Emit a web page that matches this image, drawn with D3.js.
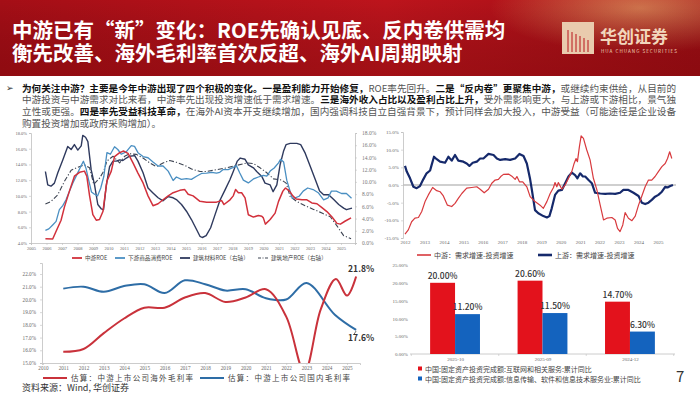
<!DOCTYPE html>
<html><head><meta charset="utf-8">
<script src="https://cdn.jsdelivr.net/npm/d3@7"></script>
<style>body{margin:0;background:#fff;}svg{display:block;font-family:"Noto Sans CJK SC","Noto Sans",sans-serif;}</style>
</head><body><svg id="c" width="700" height="394"></svg>
<script>
// ---------- DATA ----------
const titleLines = ["中游已有“新”变化：ROE先确认见底、反内卷供需均", "衡先改善、海外毛利率首次反超、海外AI周期映射"];
const bodyLines = [
  [["为何关注中游？主要是今年中游出现了四个积极的变化。一是盈利能力开始修复，", 1], ["ROE率先回升。", 0], ["二是“反内卷”更聚焦中游，", 1], ["或继续约束供给，从目前的", 0]],
  [["中游投资与中游需求对比来看，中游率先出现投资增速低于需求增速。", 0], ["三是海外收入占比以及盈利占比上升，", 1], ["受外需影响更大，与上游或下游相比，景气独", 0]],
  [["立性或更强。", 0], ["四是率先受益科技革命，", 1], ["在海外AI资本开支继续增加，国内强调科技自立自强背景下，预计同样会加大投入，中游受益（可能途径是企业设备", 0]],
  [["购置投资增加或政府采购增加）。", 0]]
];

// Chart 1 (ROE)
const c1Years = d3.range(2005, 2026);
const c1LeftTicks = [4, 6, 8, 10, 12, 14, 16, 18];
const c1RightTicks = [0, 2, 4, 6, 8, 10, 12, 14, 16, 18];
const c1Legend = ["中游ROE", "下游商品消费ROE", "建筑材料ROE（右轴）", "建筑地产ROE（右轴）"];
const midROE = [[2005.93,4.55],[2006.4,4.5],[2006.62,5.5],[2006.94,6.9],[2007.16,8.6],[2007.48,10.6],[2007.8,12.5],[2008.13,13.0],[2008.45,13.15],[2008.6,12.5],[2008.78,10.0],[2008.99,7.6],[2009.21,6.9],[2009.42,7.0],[2009.64,8.0],[2009.9,11.9],[2010.18,13.15],[2010.39,15.0],[2010.72,15.5],[2010.98,15.7],[2011.26,15.4],[2011.58,14.2],[2011.9,12.9],[2012.23,11.65],[2012.55,10.0],[2012.87,8.75],[2013.2,9.0],[2013.52,9.5],[2013.85,10.0],[2014.17,10.4],[2014.6,10.7],[2014.92,10.8],[2015.14,10.2],[2015.46,10.0],[2015.9,9.3],[2016.33,9.2],[2016.97,9.2],[2017.3,9.4],[2017.45,8.9],[2017.84,9.5],[2018.05,10.0],[2018.2,10.8],[2018.38,10.4],[2018.59,10.4],[2018.81,9.75],[2019.02,7.6],[2019.35,7.3],[2019.67,7.5],[2019.89,7.4],[2019.99,7.2],[2020.12,6.4],[2020.43,7.0],[2020.75,7.8],[2020.97,9.3],[2021.25,10.6],[2021.42,11.0],[2021.68,10.6],[2021.89,10.0],[2022.11,9.6],[2022.48,9.5],[2022.8,9.5],[2023.12,9.1],[2023.45,9.0],[2023.77,8.5],[2024.09,8.0],[2024.42,7.3],[2024.74,6.5],[2024.96,6.4],[2025.28,6.8],[2025.65,7.2]];
const downROE = [[2005.93,5.6],[2006.15,5.8],[2006.4,6.3],[2006.62,6.75],[2006.83,8.25],[2007.05,8.75],[2007.26,9.5],[2007.48,10.6],[2007.7,11.65],[2007.96,12.7],[2008.2,13.7],[2008.38,14.4],[2008.55,13.5],[2008.72,12.0],[2008.9,10.5],[2009.1,10.2],[2009.3,10.0],[2009.5,11.0],[2009.7,12.5],[2009.9,15.5],[2010.12,15.3],[2010.39,16.25],[2010.6,15.9],[2010.82,15.3],[2011.14,15.6],[2011.47,16.4],[2011.68,16.3],[2011.9,15.5],[2012.23,15.0],[2012.55,14.85],[2012.87,14.3],[2013.2,13.8],[2013.52,13.8],[2013.85,13.15],[2014.17,11.95],[2014.38,12.4],[2014.7,12.1],[2015.03,12.2],[2015.35,12.1],[2015.68,12.5],[2016.0,12.85],[2016.33,12.9],[2016.65,13.0],[2016.97,12.9],[2017.18,13.0],[2017.4,13.35],[2017.72,13.35],[2017.98,13.55],[2018.25,13.85],[2018.47,12.9],[2018.7,12.0],[2019.02,11.65],[2019.35,12.15],[2019.67,12.4],[2019.99,12.6],[2020.21,12.5],[2020.43,13.15],[2020.69,13.55],[2020.97,14.2],[2021.1,14.65],[2021.3,14.3],[2021.5,12.0],[2021.85,9.7],[2022.04,9.75],[2022.3,9.95],[2022.56,10.6],[2022.85,11.0],[2023.2,10.8],[2023.53,10.4],[2023.88,9.5],[2024.17,9.75],[2024.38,10.6],[2024.7,10.6],[2025.03,10.3],[2025.35,10.3],[2025.68,9.7]];
const matROE = [[2005.93,11.7],[2006.08,9.5],[2006.29,9.3],[2006.51,9.8],[2006.73,11.5],[2007.05,13.6],[2007.37,15.8],[2007.59,15.3],[2007.8,16.1],[2008.02,15.2],[2008.24,15.9],[2008.34,17.6],[2008.52,17.3],[2008.67,16.6],[2008.88,12.0],[2009.1,9.5],[2009.31,6.3],[2009.53,5.6],[2009.68,5.45],[2009.85,9.3],[2010.07,12.5],[2010.29,13.4],[2010.5,13.4],[2010.72,13.6],[2010.93,13.5],[2011.15,13.9],[2011.36,14.2],[2011.69,14.3],[2011.9,13.4],[2012.23,11.5],[2012.55,9.0],[2012.87,8.2],[2013.2,7.4],[2013.52,6.9],[2013.85,7.6],[2014.17,7.4],[2014.38,7.1],[2014.71,6.3],[2015.03,5.2],[2015.36,3.8],[2015.68,2.2],[2015.9,1.1],[2016.05,0.9],[2016.3,1.2],[2016.59,2.5],[2016.87,4.6],[2017.19,7.0],[2017.52,8.7],[2017.84,10.4],[2018.05,11.7],[2018.31,13.4],[2018.5,13.9],[2018.81,13.7],[2019.02,12.8],[2019.35,12.3],[2019.56,11.7],[2019.89,10.9],[2020.1,9.8],[2020.43,9.5],[2020.62,8.4],[2020.86,9.5],[2021.07,12.8],[2021.29,15.0],[2021.46,16.1],[2021.72,16.3],[2022.15,16.3],[2022.4,16.1],[2022.69,14.7],[2023.02,12.5],[2023.34,10.4],[2023.62,8.5],[2023.88,7.9],[2024.2,7.9],[2024.53,7.1],[2024.85,6.3],[2025.17,5.7],[2025.35,5.45],[2025.71,5.7]];
const reROE = [[2005.93,6.4],[2006.29,6.8],[2006.73,7.9],[2007.16,10.1],[2007.59,11.9],[2008.02,12.4],[2008.45,12.8],[2008.78,12.3],[2009.05,9.6],[2009.42,10.6],[2009.68,11.7],[2009.9,13.4],[2010.29,14.2],[2010.72,13.1],[2011.04,14.2],[2011.36,14.6],[2011.8,14.5],[2012.23,13.9],[2012.66,13.1],[2013.09,12.5],[2013.52,13.1],[2013.95,13.5],[2014.38,13.2],[2014.92,12.7],[2015.36,12.1],[2015.9,11.7],[2016.33,11.7],[2016.97,12.0],[2017.62,12.3],[2018.27,12.7],[2018.92,13.1],[2019.35,13.0],[2019.78,12.3],[2020.21,11.5],[2020.64,10.5],[2021.18,10.3],[2021.46,9.8],[2021.72,7.6],[2022.15,6.8],[2022.69,6.1],[2023.23,5.5],[2023.77,4.9],[2024.31,4.3],[2024.74,2.8],[2025.17,1.2],[2025.65,0.7]];

// Chart 2 (demand growth - investment growth)
const c2Years = d3.range(2012, 2026);
const c2Ticks = [-15, -10, -5, 0, 5, 10, 15];
const c2Legend = ["中游：需求增速-投资增速", "上游：需求增速-投资增速"];
const midGap = [[2012.0,-13.9],[2012.17,-12.7],[2012.34,-10.4],[2012.51,-9.4],[2012.69,-9.2],[2012.86,-7.5],[2013.03,-4.7],[2013.2,-2.8],[2013.42,-0.7],[2013.63,-1.6],[2013.8,-1.9],[2013.97,-3.1],[2014.18,-5.7],[2014.4,-6.1],[2014.57,-5.2],[2014.74,-3.8],[2014.92,-2.4],[2015.17,-0.9],[2015.43,-0.7],[2015.69,-0.5],[2015.86,-1.2],[2016.07,-2.2],[2016.29,-1.2],[2016.46,0.5],[2016.63,1.4],[2016.8,1.6],[2016.92,2.4],[2017.06,3.0],[2017.32,3.1],[2017.49,2.5],[2017.66,1.6],[2017.75,2.4],[2017.88,0.9],[2018.05,0.9],[2018.26,-0.5],[2018.43,-3.3],[2018.68,-4.7],[2018.94,-5.7],[2019.11,-6.6],[2019.29,-4.7],[2019.46,-2.4],[2019.63,-0.7],[2019.71,0.7],[2019.8,-0.5],[2019.88,0.7],[2020.06,-1.2],[2020.23,0.0],[2020.4,1.9],[2020.57,3.8],[2020.69,6.1],[2020.79,7.5],[2020.86,6.6],[2020.96,10.8],[2021.05,13.9],[2021.17,13.2],[2021.34,9.9],[2021.51,7.1],[2021.68,1.9],[2021.86,-1.4],[2022.03,-5.7],[2022.2,-9.9],[2022.37,-9.4],[2022.63,-9.2],[2022.8,-9.9],[2022.92,-12.3],[2023.05,-13.2],[2023.19,-11.3],[2023.31,-7.8],[2023.48,-9.4],[2023.66,-10.1],[2023.83,-8.8],[2024.0,-5.7],[2024.17,-3.1],[2024.34,-0.5],[2024.51,1.4],[2024.68,1.4],[2024.85,2.4],[2025.02,3.8],[2025.2,5.2],[2025.37,6.1],[2025.49,7.5],[2025.6,9.4],[2025.71,7.5]];
const upGap = [[2012.0,5.4],[2012.09,3.8],[2012.26,1.9],[2012.43,-0.5],[2012.6,-0.9],[2012.77,-0.3],[2012.94,1.6],[2013.11,3.3],[2013.29,4.1],[2013.37,5.7],[2013.49,8.0],[2013.63,7.3],[2013.8,6.6],[2014.06,6.3],[2014.23,8.0],[2014.4,6.9],[2014.57,8.5],[2014.74,6.9],[2015.0,6.6],[2015.17,6.1],[2015.31,5.4],[2015.48,6.3],[2015.69,6.6],[2015.86,7.5],[2016.03,7.5],[2016.29,8.8],[2016.55,8.5],[2016.72,7.5],[2016.89,7.1],[2017.15,7.3],[2017.4,7.1],[2017.66,7.5],[2017.88,8.8],[2018.09,8.2],[2018.26,6.1],[2018.43,1.6],[2018.52,-1.4],[2018.68,-7.1],[2018.85,-8.0],[2019.11,-8.8],[2019.29,-9.2],[2019.42,-8.8],[2019.54,-6.6],[2019.71,-2.8],[2019.88,-1.6],[2020.06,-1.4],[2020.23,0.5],[2020.4,2.4],[2020.57,3.5],[2020.74,2.8],[2020.86,1.9],[2021.0,3.3],[2021.14,2.4],[2021.26,2.4],[2021.43,1.4],[2021.6,0.5],[2021.77,-2.2],[2022.03,-2.4],[2022.29,-2.5],[2022.54,-2.4],[2022.8,-2.5],[2023.05,-2.2],[2023.22,-1.4],[2023.48,-1.4],[2023.74,-2.2],[2024.0,-3.1],[2024.17,-5.0],[2024.34,-5.4],[2024.51,-5.0],[2024.68,-4.2],[2024.85,-3.3],[2025.02,-2.8],[2025.2,-1.9],[2025.37,-0.5],[2025.49,-0.7],[2025.63,-0.3],[2025.77,0.0]];

// Chart 3 (gross margin)
const c3Years = d3.range(2010, 2026);
const c3Ticks = [15, 16, 17, 18, 19, 20, 21, 22];
const c3Legend = ["估算：中游上市公司海外毛利率", "估算：中游上市公司国内毛利率"];
const overseasGM = [[2011,15.88],[2012,16.1],[2013,17.35],[2014,18.5],[2015,19.35],[2016,19.35],[2017,20.15],[2018,20.5],[2019,19.8],[2020,20.15],[2021,20.8],[2022,18.65],[2022.9,14.3],[2023.7,19.2],[2024.45,21.6],[2025.0,20.3],[2025.45,21.8]];
const domesticGM = [[2011,20.85],[2012,21.0],[2013,20.6],[2014,21.05],[2015,21.2],[2016,20.5],[2017,21.5],[2018,21.2],[2019,20.7],[2020,20.8],[2021,20.1],[2022,20.0],[2023,21.3],[2024.4,18.8],[2025.45,17.6]];

// Chart 4 (bars)
const barCats = ["2025-10", "2025-09", "2024-12"];
const internetInv = [20.0, 20.6, 14.7];
const infoInv = [11.2, 11.5, 6.3];
const c4Ticks = [0, 5, 10, 15, 20, 25];
const c4Legend = ["中国:固定资产投资完成额:互联网和相关服务:累计同比", "中国:固定资产投资完成额:信息传输、软件和信息技术服务业:累计同比"];

const sourceText = "资料来源：Wind, 华创证券";
const pageNum = "7";

// ---------- DRAW ----------
const svg = d3.select("#c");
const defs = svg.append("defs");
const lg = defs.append("linearGradient").attr("id", "hdr").attr("x1", 0).attr("x2", 1).attr("y1", 0).attr("y2", 0);
lg.append("stop").attr("offset", "0%").attr("stop-color", "#A50E16");
lg.append("stop").attr("offset", "55%").attr("stop-color", "#BD141C");
lg.append("stop").attr("offset", "100%").attr("stop-color", "#A00E15");
const rg = defs.append("radialGradient").attr("id", "glow").attr("cx", 0.5).attr("cy", 0.5).attr("r", 0.5);
rg.append("stop").attr("offset", "0%").attr("stop-color", "#F5C77A").attr("stop-opacity", 0.55);
rg.append("stop").attr("offset", "100%").attr("stop-color", "#F5C77A").attr("stop-opacity", 0);
const vg = defs.append("linearGradient").attr("id", "shade").attr("x1", 0).attr("x2", 0).attr("y1", 0).attr("y2", 1);
vg.append("stop").attr("offset", "0%").attr("stop-color", "#000").attr("stop-opacity", 0);
vg.append("stop").attr("offset", "100%").attr("stop-color", "#500000").attr("stop-opacity", 0.25);

svg.append("rect").attr("width", 700).attr("height", 394).attr("fill", "#fff");
svg.append("rect").attr("width", 700).attr("height", 76).attr("fill", "url(#hdr)");
svg.append("ellipse").attr("cx", 640).attr("cy", 8).attr("rx", 150).attr("ry", 45).attr("fill", "url(#glow)");
svg.append("rect").attr("width", 700).attr("height", 76).attr("fill", "url(#shade)");

const hdrG = svg.append("g");
titleLines.forEach((t, i) => {
  hdrG.append("text").attr("x", 12).attr("y", 38 + i * 22.5).attr("fill", "#fff")
    .style("font-size", "20.5px").style("font-weight", 700).text(t);
});
// logo
const logo = svg.append("g").attr("transform", "translate(562,22)");
logo.append("rect").attr("width", 32).attr("height", 32).attr("fill", "#E9CBAE");
d3.range(0, 6).forEach(k => {
  logo.append("line").attr("x1", 6 + k * 4).attr("y1", 30).attr("x2", 6 + k * 4).attr("y2", 8 + k * 2)
    .attr("stroke", "#B8141C").attr("stroke-width", 1);
});
svg.append("text").attr("x", 600).attr("y", 43).attr("fill", "#F2D6BC").style("font-size", "17px").style("font-weight", 700).text("华创证券");
svg.append("text").attr("x", 601).attr("y", 53).attr("fill", "#F2D6BC").style("font-size", "4.6px").attr("textLength", 76).text("HUA CHUANG SECURITIES");

// body text (justified with letter-spacing)
svg.append("text").attr("x", 6).attr("y", 91).attr("fill", "#333").style("font-size", "9px").text("➢");
bodyLines.forEach((segs, i) => {
  const t = svg.append("text").attr("x", 22).attr("y", 91.5 + i * 11.8).style("font-size", "9.6px");
  segs.forEach(s => t.append("tspan").attr("fill", s[1] ? "#111" : "#555").style("font-weight", s[1] ? 700 : 400).text(s[0]));
  if (i < 3) {
    const w = t.node().getComputedTextLength();
    const n = segs.map(s => s[0]).join("").length;
    t.style("letter-spacing", ((654 - w) / (n - 1)) + "px");
  }
});

function styleAxis(g, fs, col) {
  g.select(".domain").attr("stroke", "#BFBFBF").attr("stroke-width", 0.8);
  g.selectAll(".tick line").attr("stroke", "#BFBFBF").attr("stroke-width", 0.6);
  g.selectAll(".tick text").attr("fill", col || "#666").style("font-size", fs + "px").style("font-family", "'Liberation Serif',serif");
}

// ---- Chart 1 ----
const x1 = d3.scaleLinear().domain([2005, 2025]).range([31, 341]);
const yL1 = d3.scaleLinear().domain([4, 18]).range([243, 133]);
const yR1 = d3.scaleLinear().domain([0, 18]).range([243, 133]);
const c1 = svg.append("g");
const x1Axis = d3.scaleLinear().domain([2005, x1.invert(355)]).range([31, 355]);
c1.append("g").attr("transform", "translate(0,243)")
  .call(d3.axisBottom(x1Axis).tickValues(c1Years).tickFormat(d3.format("d")).tickSize(2).tickPadding(1.5))
  .call(g => styleAxis(g, 4.5));
c1.append("g").attr("transform", "translate(31,0)")
  .call(d3.axisLeft(yL1).tickValues(c1LeftTicks).tickFormat(d => d.toFixed(1) + "%").tickSize(2).tickPadding(2))
  .call(g => styleAxis(g, 4.5));
c1.append("g").attr("transform", "translate(355,0)")
  .call(d3.axisRight(yR1).tickValues(c1RightTicks).tickFormat(d => d.toFixed(1) + "%").tickSize(2).tickPadding(5))
  .call(g => styleAxis(g, 5.5, "#777"));
const c1Series = [
  {data: reROE, y: yR1, color: "#3D4452", w: 1.1, dash: "5,2,1.2,2"},
  {data: matROE, y: yR1, color: "#2F3A5E", w: 1.4},
  {data: downROE, y: yL1, color: "#4A8FC2", w: 1.3},
  {data: midROE, y: yL1, color: "#D2313C", w: 1.5}
];
c1Series.forEach(s => {
  c1.append("path").datum(s.data).attr("fill", "none").attr("stroke", s.color).attr("stroke-width", s.w)
    .attr("stroke-dasharray", s.dash || null).attr("stroke-linejoin", "round")
    .attr("d", d3.line().x(d => x1(d[0])).y(d => s.y(d[1])));
});
const c1LegX = [72, 115, 180, 258];
const c1LegCol = ["#D2313C", "#4A8FC2", "#2F3A5E", "#3D4452"];
c1Legend.forEach((t, i) => {
  c1.append("line").attr("x1", c1LegX[i]).attr("x2", c1LegX[i] + 10).attr("y1", 258).attr("y2", 258)
    .attr("stroke", c1LegCol[i]).attr("stroke-width", i === 3 ? 1 : 1.8).attr("stroke-dasharray", i === 3 ? "3,1.5,1,1.5" : null);
  c1.append("text").attr("x", c1LegX[i] + 13).attr("y", 260).attr("fill", "#444").style("font-size", "5.6px").text(t);
});

// ---- Chart 2 ----
const x2 = d3.scaleLinear().domain([2012, 2025]).range([405, 658]);
const y2 = d3.scaleLinear().domain([-15, 15]).range([238, 132]);
const c2 = svg.append("g");
c2.append("line").attr("x1", 403).attr("x2", 676).attr("y1", y2(0)).attr("y2", y2(0)).attr("stroke", "#CFCFCF").attr("stroke-width", 2);
c2.append("g").attr("transform", "translate(403,0)")
  .call(d3.axisLeft(y2).tickValues(c2Ticks).tickFormat(d => d.toFixed(1) + "%").tickSize(2).tickPadding(2))
  .call(g => styleAxis(g, 5));
c2.append("g").attr("transform", "translate(0,238)")
  .call(d3.axisBottom(x2).tickValues(c2Years).tickFormat(d3.format("d")).tickSize(0).tickPadding(2.5))
  .call(g => { styleAxis(g, 5); g.select(".domain").remove(); });
c2.append("path").datum(upGap).attr("fill", "none").attr("stroke", "#15296B").attr("stroke-width", 2.2).attr("stroke-linejoin", "round")
  .attr("d", d3.line().x(d => x2(d[0])).y(d => y2(d[1])));
c2.append("path").datum(midGap).attr("fill", "none").attr("stroke", "#D83A3E").attr("stroke-width", 1.2).attr("stroke-linejoin", "round")
  .attr("d", d3.line().x(d => x2(d[0])).y(d => y2(d[1])));
const c2LegX = [417, 538];
const c2LegCol = ["#D83A3E", "#15296B"];
c2Legend.forEach((t, i) => {
  c2.append("line").attr("x1", c2LegX[i]).attr("x2", c2LegX[i] + 14).attr("y1", 255).attr("y2", 255)
    .attr("stroke", c2LegCol[i]).attr("stroke-width", i ? 2.6 : 1.6);
  c2.append("text").attr("x", c2LegX[i] + 17).attr("y", 257.5).attr("fill", "#444").style("font-size", "7px").text(t);
});

// ---- Chart 3 ----
const x3 = d3.scaleLinear().domain([2010, 2025]).range([43, 347]);
const y3 = d3.scaleLinear().domain([15, 22]).range([363, 274]);
const c3 = svg.append("g");
defs.append("clipPath").attr("id", "c3clip").append("rect").attr("x", 42).attr("y", 255).attr("width", 330).attr("height", 108);
const y3Axis = d3.scaleLinear().domain([15, y3.invert(263)]).range([363, 263]);
c3.append("g").attr("transform", "translate(42,0)")
  .call(d3.axisLeft(y3Axis).tickValues(c3Ticks).tickFormat(d => d.toFixed(1) + "%").tickSize(2).tickPadding(4))
  .call(g => styleAxis(g, 5.2));
const x3Axis = d3.scaleLinear().domain([x3.invert(42), x3.invert(360)]).range([42, 360]);
c3.append("g").attr("transform", "translate(0,363)")
  .call(d3.axisBottom(x3Axis).tickValues(c3Years).tickFormat(d3.format("d")).tickSize(2).tickPadding(1.5))
  .call(g => styleAxis(g, 5.2));
const curve3 = d3.curveCatmullRom.alpha(0.5);
c3.append("path").datum(domesticGM).attr("clip-path", "url(#c3clip)").attr("fill", "none").attr("stroke", "#2E6DA6").attr("stroke-width", 2)
  .attr("d", d3.line().curve(curve3).x(d => x3(d[0])).y(d => y3(d[1])));
c3.append("path").datum(overseasGM).attr("clip-path", "url(#c3clip)").attr("fill", "none").attr("stroke", "#C9323B").attr("stroke-width", 2)
  .attr("d", d3.line().curve(curve3).x(d => x3(d[0])).y(d => y3(d[1])));
const lastO = overseasGM[overseasGM.length - 1], lastD = domesticGM[domesticGM.length - 1];
c3.append("text").attr("x", x3(lastO[0]) - 8).attr("y", y3(lastO[1]) - 5).attr("fill", "#333").style("font-size", "8.5px").style("font-weight", 700).text(lastO[1].toFixed(1) + "%");
c3.append("line").attr("x1", x3(lastD[0])).attr("y1", y3(lastD[1]) + 1).attr("x2", x3(lastD[0]) - 2.5).attr("y2", y3(lastD[1]) + 5).attr("stroke", "#333").attr("stroke-width", 0.7);
c3.append("text").attr("x", x3(lastD[0]) - 8).attr("y", y3(lastD[1]) + 11).attr("fill", "#333").style("font-size", "8.5px").style("font-weight", 700).text(lastD[1].toFixed(1) + "%");
const c3LegX = [43, 200];
const c3LegCol = ["#C9323B", "#2E6DA6"];
c3Legend.forEach((t, i) => {
  c3.append("line").attr("x1", c3LegX[i]).attr("x2", c3LegX[i] + 24).attr("y1", 378).attr("y2", 378)
    .attr("stroke", c3LegCol[i]).attr("stroke-width", 2);
  c3.append("text").attr("x", c3LegX[i] + 28).attr("y", 380.5).attr("fill", "#444").style("font-size", "7.5px")
    .attr("textLength", 122).attr("lengthAdjust", "spacing").text(t);
});

// ---- Chart 4 ----
const xb = d3.scaleBand().domain(barCats).range([410, 675]).paddingInner(0.43).paddingOuter(0.23);
const xs = d3.scaleBand().domain([0, 1]).range([0, xb.bandwidth()]);
const yb = d3.scaleLinear().domain([0, 25]).range([354, 265]);
const c4 = svg.append("g");
c4.append("g").attr("transform", "translate(409,0)")
  .call(d3.axisLeft(yb).tickValues(c4Ticks).tickFormat(d => d.toFixed(2) + "%").tickSize(0).tickPadding(1))
  .call(g => { styleAxis(g, 5); g.select(".domain").remove(); });
const xbAxis = d3.scalePoint().domain(barCats).range([xb(barCats[0]) + xb.bandwidth() / 2, xb(barCats[2]) + xb.bandwidth() / 2]);
c4.append("g").attr("transform", "translate(0,354)")
  .call(d3.axisBottom(xbAxis).tickSize(0).tickPadding(3))
  .call(g => { styleAxis(g, 5); g.select(".domain").remove(); });
c4.append("line").attr("x1", 410).attr("x2", 675).attr("y1", 354).attr("y2", 354).attr("stroke", "#BFBFBF").attr("stroke-width", 0.8);
const step = xb.step();
[0, 1, 2, 3].forEach(k => {
  const xx = xb(barCats[0]) - xb.paddingInner() * step / 2 + k * step;
  c4.append("line").attr("x1", xx).attr("x2", xx).attr("y1", 354).attr("y2", 356).attr("stroke", "#BFBFBF").attr("stroke-width", 0.6);
});
const barSeries = [{vals: internetInv, color: "#E3121C"}, {vals: infoInv, color: "#1463BE"}];
barSeries.forEach((s, si) => {
  c4.selectAll(null).data(barCats).enter().append("rect")
    .attr("x", d => xb(d) + xs(si)).attr("width", xs.bandwidth())
    .attr("y", (d, i) => yb(s.vals[i])).attr("height", (d, i) => yb(0) - yb(s.vals[i]))
    .attr("fill", s.color);
  c4.selectAll(null).data(barCats).enter().append("text")
    .attr("x", d => xb(d) + xs(si) + xs.bandwidth() / 2).attr("y", (d, i) => yb(s.vals[i]) - 4)
    .attr("text-anchor", "middle").attr("fill", "#333").style("font-size", "8.5px").style("font-weight", 500)
    .text((d, i) => s.vals[i].toFixed(2) + "%");
});
const c4LegCol = ["#E3121C", "#1463BE"];
c4Legend.forEach((t, i) => {
  c4.append("rect").attr("x", 418).attr("y", 366.5 + i * 10).attr("width", 4).attr("height", 4).attr("fill", c4LegCol[i]);
  c4.append("text").attr("x", 425).attr("y", 371.5 + i * 10).attr("fill", "#444").style("font-size", "7px").text(t);
});

svg.append("text").attr("x", 22).attr("y", 391).attr("fill", "#333").style("font-size", "9px").text(sourceText);
svg.append("text").attr("x", 676).attr("y", 382).attr("fill", "#333").style("font-size", "15px").text(pageNum);
</script></body></html>
